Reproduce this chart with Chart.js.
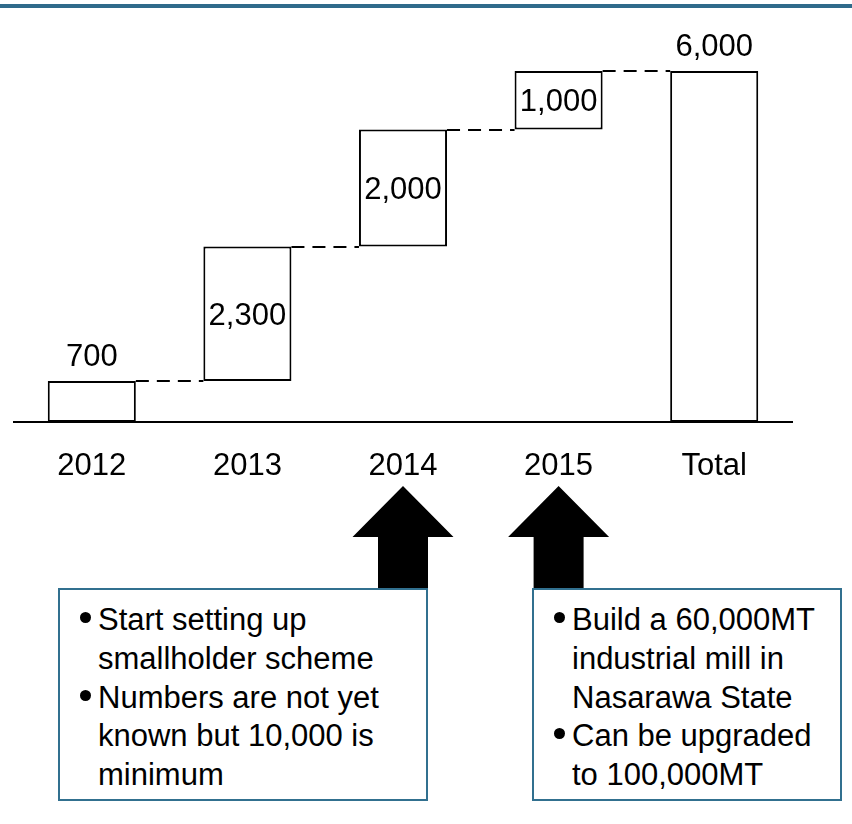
<!DOCTYPE html>
<html>
<head>
<meta charset="utf-8">
<title>Waterfall</title>
<script src="https://cdn.jsdelivr.net/npm/chart.js@4.4.1/dist/chart.umd.min.js"></script>
<style>
  body { margin: 0; background: #fff; font-family: 'Liberation Sans', Arial, sans-serif; }
  #wrap { position: relative; width: 852px; height: 824px; overflow: hidden; }
  #topbar { position: absolute; left: 0; top: 4px; width: 852px; height: 4px; background: #2f6b8b; }
  #chart { position: absolute; left: 0; top: 0; }
  .note { position: absolute; top: 588px; height: 213px; box-sizing: border-box; border: 2px solid #31708f;
          background: #fff; font-size: 31px; line-height: 38.75px; color: #000; padding-top: 11px; }
  .note div { position: relative; padding-left: 38px; white-space: nowrap; }
  .note div::before { content: ''; position: absolute; left: 20px; top: 11px; width: 11px; height: 11px;
                      border-radius: 50%; background: #000; }
</style>
</head>
<body>
<div id="wrap">
  <div id="topbar"></div>
  <canvas id="chart" width="852" height="824"></canvas>
  <div class="note" style="left:58px; width:370px;">
    <div>Start setting up<br>smallholder scheme</div>
    <div>Numbers are not yet<br>known but 10,000 is<br>minimum</div>
  </div>
  <div class="note" style="left:532px; width:310px;">
    <div>Build a 60,000MT<br>industrial mill in<br>Nasarawa State</div>
    <div>Can be upgraded<br>to 100,000MT</div>
  </div>
</div>
<script>
const categories = ['2012', '2013', '2014', '2015', 'Total'];
const increments = [700, 2300, 2000, 1000];
const total = 6000;
const arrowAt = ['2014', '2015'];

const FONT = "'Liberation Sans', Arial, sans-serif";

// floating ranges for the waterfall
let running = 0;
const ranges = increments.map(v => {
    const r = [running, running + v];
    running += v;
    return r;
});
ranges.push([0, total]);
const shown = increments.concat([total]);

const waterfallExtras = {
    id: 'waterfallExtras',
    afterDatasetsDraw(chart) {
        const ctx = chart.ctx;
        const meta = chart.getDatasetMeta(0);
        const y = chart.scales.y;
        const bars = meta.data;

        // dashed connectors
        ctx.save();
        ctx.strokeStyle = '#000';
        ctx.lineWidth = 2;
        ctx.setLineDash([13, 8]);
        for (let i = 0; i < bars.length - 1; i++) {
            const py = Math.round(y.getPixelForValue(ranges[i][1]));
            const x0 = bars[i].x + bars[i].width / 2;
            const x1 = bars[i + 1].x - bars[i + 1].width / 2;
            ctx.beginPath();
            ctx.moveTo(x0, py);
            ctx.lineTo(x1, py);
            ctx.stroke();
        }
        ctx.restore();

        // value labels
        ctx.save();
        ctx.fillStyle = '#000';
        ctx.font = '31px ' + FONT;
        ctx.textAlign = 'center';
        ctx.textBaseline = 'alphabetic';
        bars.forEach((bar, i) => {
            const text = shown[i].toLocaleString('en-US');
            const top = y.getPixelForValue(ranges[i][1]);
            const bottom = y.getPixelForValue(ranges[i][0]);
            let by;
            if (i === 0 || i === bars.length - 1) {
                by = top - 15.5;
            } else {
                by = (top + bottom) / 2 + 11;
            }
            ctx.fillText(text, bar.x, by);
        });
        ctx.restore();
    },
    afterDraw(chart) {
        const ctx = chart.ctx;
        const x = chart.scales.x;
        ctx.save();
        ctx.fillStyle = '#000';
        arrowAt.forEach(cat => {
            const cx = x.getPixelForValue(categories.indexOf(cat));
            ctx.beginPath();
            ctx.moveTo(cx, 486);
            ctx.lineTo(cx + 50.5, 537);
            ctx.lineTo(cx + 25, 537);
            ctx.lineTo(cx + 25, 589);
            ctx.lineTo(cx - 25, 589);
            ctx.lineTo(cx - 25, 537);
            ctx.lineTo(cx - 50.5, 537);
            ctx.closePath();
            ctx.fill();
        });
        ctx.restore();
    }
};

new Chart(document.getElementById('chart'), {
    type: 'bar',
    data: {
        labels: categories,
        datasets: [{
            data: ranges,
            backgroundColor: '#fff',
            borderColor: '#000',
            borderWidth: 2,
            borderSkipped: false,
            barPercentage: 0.566,
            categoryPercentage: 1,
            clip: false
        }]
    },
    options: {
        responsive: false,
        animation: false,
        devicePixelRatio: 1,
        layout: {
            padding: { left: 14, right: 60, top: 71, bottom: 342 }
        },
        scales: {
            x: {
                grid: { display: false, drawTicks: false },
                border: { display: true, color: '#000', width: 2 },
                ticks: {
                    color: '#000',
                    padding: 26,
                    font: { size: 31, family: FONT }
                },
                afterFit: scale => { scale.height = 60; }
            },
            y: {
                display: false,
                min: 0,
                max: total
            }
        },
        plugins: {
            legend: { display: false },
            tooltip: { enabled: false }
        }
    },
    plugins: [waterfallExtras]
});
</script>
</body>
</html>
